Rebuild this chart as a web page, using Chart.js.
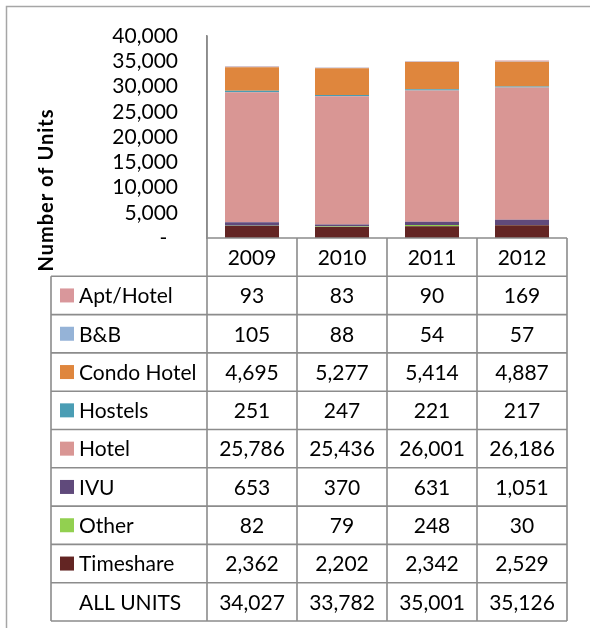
<!DOCTYPE html>
<html>
<head>
<meta charset="utf-8">
<script src="https://cdn.jsdelivr.net/npm/chart.js@4"></script>
<style>
  body { margin: 0; background: #fff; }
  canvas { display: block; }
</style>
</head>
<body>
<canvas id="unitsChart" width="590" height="628"></canvas>
<script>
const years = ['2009', '2010', '2011', '2012'];
const seriesNames = ['Apt/Hotel', 'B&B', 'Condo Hotel', 'Hostels', 'Hotel', 'IVU', 'Other', 'Timeshare'];
const aptHotel = [93, 83, 90, 169];
const bnb = [105, 88, 54, 57];
const condoHotel = [4695, 5277, 5414, 4887];
const hostels = [251, 247, 221, 217];
const hotel = [25786, 25436, 26001, 26186];
const ivu = [653, 370, 631, 1051];
const other = [82, 79, 248, 30];
const timeshare = [2362, 2202, 2342, 2529];
const allUnits = [34027, 33782, 35001, 35126];
const seriesColors = ['#D9979B', '#95B3D7', '#DF863D', '#4A9DB4', '#D99694', '#604A7B', '#92D050', '#632523'];

const seriesValues = [aptHotel, bnb, condoHotel, hostels, hotel, ivu, other, timeshare];
const fmt = v => v.toLocaleString('en-US');
const FONT = 'Lato, "Open Sans", sans-serif';

// first dataset sits at the bottom of the stack, so feed them in reverse
const datasets = seriesNames.map((name, i) => ({
    label: name,
    data: seriesValues[i],
    backgroundColor: seriesColors[i],
    borderWidth: 0,
    barPercentage: 0.6,
    categoryPercentage: 1
})).reverse();

const tablePlugin = {
    id: 'dataTable',
    beforeDraw(chart) {
        const ctx = chart.ctx;
        ctx.save();
        ctx.strokeStyle = '#A6A6A6';
        ctx.lineWidth = 1.5;
        ctx.beginPath();
        ctx.moveTo(6.5, chart.height);
        ctx.lineTo(6.5, 6.5);
        ctx.lineTo(chart.width, 6.5);
        ctx.stroke();
        ctx.restore();
    },
    afterDraw(chart) {
        const {ctx, chartArea} = chart;
        const x = chart.scales.x;
        const rowH = 38.3;
        const top = chartArea.bottom;
        const left = chartArea.left;
        const right = chartArea.right;
        const labelLeft = 51;
        const nRows = seriesNames.length + 2;
        const bottom = top + rowH * nRows;
        const colW = (right - left) / years.length;

        ctx.save();
        ctx.strokeStyle = '#8C8C8C';
        ctx.lineWidth = 1.6;
        ctx.beginPath();
        // header row top + axis line down through table
        ctx.moveTo(left, chartArea.top);
        ctx.lineTo(left, bottom);
        ctx.moveTo(left, top);
        ctx.lineTo(right, top);
        for (let c = 1; c <= years.length; c++) {
            ctx.moveTo(left + colW * c, top);
            ctx.lineTo(left + colW * c, bottom);
        }
        for (let r = 1; r <= nRows; r++) {
            ctx.moveTo(labelLeft, top + rowH * r);
            ctx.lineTo(right, top + rowH * r);
        }
        ctx.moveTo(labelLeft, top + rowH);
        ctx.lineTo(labelLeft, bottom);
        ctx.stroke();

        ctx.font = '21px ' + FONT;
        ctx.fillStyle = '#000';
        ctx.textBaseline = 'middle';
        ctx.textAlign = 'center';
        years.forEach((yr, i) => {
            ctx.fillText(yr, x.getPixelForValue(i), top + rowH / 2 + 1);
        });

        seriesNames.forEach((name, r) => {
            const cy = top + rowH * (r + 1.5);
            ctx.fillStyle = seriesColors[r];
            ctx.fillRect(60, cy - 7, 14, 14);
            ctx.fillStyle = '#000';
            ctx.textAlign = 'left';
            ctx.fillText(name, 79, cy + 1);
            ctx.textAlign = 'center';
            seriesValues[r].forEach((v, i) => {
                ctx.fillText(fmt(v), x.getPixelForValue(i), cy + 1);
            });
        });

        const cyAll = top + rowH * (nRows - 0.5);
        ctx.textAlign = 'left';
        ctx.fillText('ALL UNITS', 79, cyAll + 1);
        ctx.textAlign = 'center';
        allUnits.forEach((v, i) => {
            ctx.fillText(fmt(v), x.getPixelForValue(i), cyAll + 1);
        });

        // y axis title
        ctx.translate(47, 190);
        ctx.rotate(-Math.PI / 2);
        ctx.font = 'bold 20px ' + FONT;
        ctx.letterSpacing = '1px';
        ctx.textAlign = 'center';
        ctx.fillText('Number of Units', 0, 0);
        ctx.restore();
    }
};

new Chart(document.getElementById('unitsChart'), {
    type: 'bar',
    data: {
        labels: years,
        datasets: datasets
    },
    options: {
        responsive: false,
        animation: false,
        layout: {
            padding: { top: 36, right: 23, bottom: 390, left: 0 }
        },
        plugins: {
            legend: { display: false },
            tooltip: { enabled: false }
        },
        scales: {
            x: {
                stacked: true,
                display: false
            },
            y: {
                stacked: true,
                min: 0,
                max: 40000,
                afterFit(scale) { scale.width = 207; },
                grid: { display: false, drawTicks: true, tickLength: 29 },
                border: { display: true, color: '#8C8C8C', width: 1.6 },
                ticks: {
                    stepSize: 5000,
                    autoSkip: false,
                    padding: 0,
                    color: '#000',
                    font: { family: FONT, size: 21 },
                    callback: v => v === 0 ? '-  ' : fmt(v)
                }
            }
        }
    },
    plugins: [tablePlugin]
});
</script>
</body>
</html>
